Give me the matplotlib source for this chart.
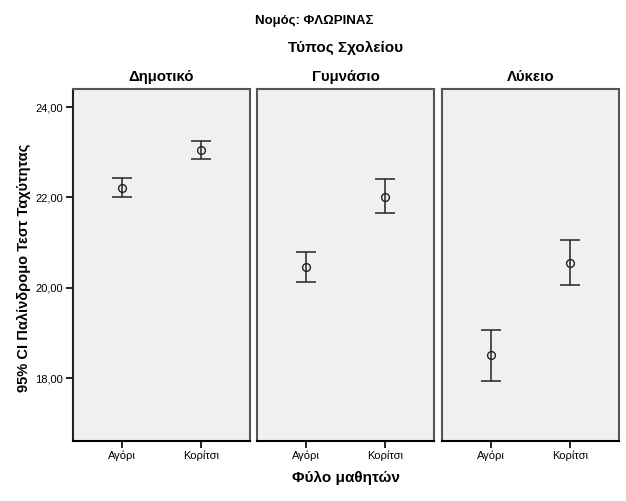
import numpy as np
import matplotlib
matplotlib.use("Agg")
import matplotlib.pyplot as plt

plt.rcParams['font.family'] = ['Liberation Sans', 'DejaVu Sans']

# data
schools = ["Δημοτικό", "Γυμνάσιο", "Λύκειο"]
genders = ["Αγόρι", "Κορίτσι"]
means = [[22.22, 23.04], [20.46, 22.02], [18.51, 20.55]]
ci_low = [[22.02, 22.84], [20.13, 21.66], [17.93, 20.06]]
ci_high = [[22.42, 23.24], [20.80, 22.41], [19.07, 21.05]]
yticks = [18, 20, 22, 24]

W, H = 626, 501
fig = plt.figure(figsize=(W / 100, H / 100), dpi=100)

lefts = [73, 257, 442]
pw = 177
top, bottom = 89, 441

axes = []
for i, name in enumerate(schools):
    ax = fig.add_axes([lefts[i] / W, 1 - bottom / H, pw / W, (bottom - top) / H])
    ax.set_facecolor("#f0f0f0")
    x = np.arange(len(genders))
    m = np.array(means[i])
    lo = m - np.array(ci_low[i])
    hi = np.array(ci_high[i]) - m
    ax.errorbar(x, m, yerr=[lo, hi], fmt="none", ecolor="#222222",
                elinewidth=1.1, capsize=7.2, capthick=1.1)
    ax.plot(x, m, "o", mfc="none", mec="#222222", ms=5.6, mew=1.0)
    ax.set_xlim(-0.62, 1.62)
    ax.set_ylim(16.61, 24.40)
    ax.set_xticks(x)
    ax.set_xticklabels(genders, fontsize=8)
    ax.set_yticks(yticks)
    if i == 0:
        ax.set_yticklabels([("%.2f" % v).replace(".", ",") for v in yticks], fontsize=8)
    else:
        ax.tick_params(axis="y", left=False, labelleft=False)
    ax.tick_params(axis="both", direction="out", length=5, width=1.2, color="black", pad=2)
    for s in ["top", "right"]:
        ax.spines[s].set_color("#555555")
        ax.spines[s].set_linewidth(1.5)
    ax.spines["left"].set_color("#222222" if i == 0 else "#555555")
    ax.spines["bottom"].set_color("black")
    ax.spines["left"].set_linewidth(1.5)
    ax.spines["bottom"].set_linewidth(1.5)
    ax.text(0.5, 1 - (77 - top) / (bottom - top), name, transform=ax.transAxes,
            ha="center", va="center", fontsize=10.8, fontweight="bold")
    axes.append(ax)

fig.text(314 / W, 1 - 21 / H, "Νομός: ΦΛΩΡΙΝΑΣ", ha="center", va="center",
         fontsize=9.5, fontweight="bold")
fig.text((73 + 619) / 2 / W, 1 - 48 / H, "Τύπος Σχολείου", ha="center", va="center",
         fontsize=11, fontweight="bold")
fig.text((73 + 619) / 2 / W, 1 - 478 / H, "Φύλο μαθητών", ha="center", va="center",
         fontsize=11, fontweight="bold")
fig.text(24 / W, 1 - 268 / H, "95% CI Παλίνδρομο Τεστ Ταχύτητας", ha="center", va="center",
         rotation=90, fontsize=10.5, fontweight="bold")

fig.savefig("out.png", dpi=100, facecolor="white")
